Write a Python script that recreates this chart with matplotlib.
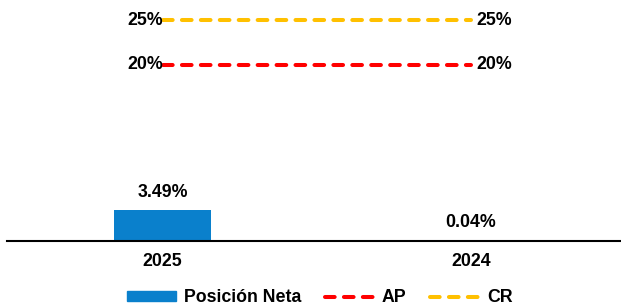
import numpy as np
import matplotlib.pyplot as plt
from matplotlib.patches import Patch
from matplotlib.lines import Line2D

plt.rcParams['font.family'] = ['Liberation Sans', 'DejaVu Sans']
plt.rcParams['font.weight'] = 'bold'

years = ['2025', '2024']
posicion_neta = [3.49, 0.04]
ap = [20, 20]
cr = [25, 25]

bar_color = '#0A80CC'
ap_color = '#FF0000'
cr_color = '#FFC000'
fs = 12.8
lw = 2.9
dash = (2.4, 2.3)

fig = plt.figure(figsize=(6.21, 3.07), dpi=100)
ax = fig.add_axes([7/621, 66.5/307, 614/621, 240.5/307])

x = np.arange(len(years))
ax.bar(x, posicion_neta, width=0.313, color=bar_color, zorder=2)
for xi, v in zip(x, posicion_neta):
    ax.annotate(f'{v:.2f}%', (xi, v), xytext=(0, 12.5), textcoords='offset points',
                ha='center', va='center', fontsize=fs, fontweight='bold')

for vals, col in [(ap, ap_color), (cr, cr_color)]:
    ax.plot(x, vals, color=col, lw=lw, dashes=dash, dash_capstyle='round',
            solid_capstyle='round', zorder=3)
    ax.annotate(f'{vals[0]:.0f}%', (x[0], vals[0]), xytext=(0.5, 0), textcoords='offset points',
                ha='right', va='center', fontsize=fs, fontweight='bold')
    ax.annotate(f'{vals[-1]:.0f}%', (x[-1], vals[-1]), xytext=(4, 0), textcoords='offset points',
                ha='left', va='center', fontsize=fs, fontweight='bold')

ax.set_xlim(-0.504, 1.486)
ax.set_ylim(0, 240.5/8.8)
ax.set_xticks(x)
ax.set_xticklabels(years, fontsize=fs, fontweight='bold')
ax.tick_params(axis='x', length=0, pad=9)
ax.set_yticks([])
for s in ['top', 'right', 'left']:
    ax.spines[s].set_visible(False)
ax.spines['bottom'].set_linewidth(1.5)

handles = [Patch(color=bar_color, label='Posición Neta'),
           Line2D([], [], color=ap_color, lw=lw, dashes=dash, dash_capstyle='round', label='AP'),
           Line2D([], [], color=cr_color, lw=lw, dashes=dash, dash_capstyle='round', label='CR')]
fig.legend(handles=handles, loc='center', bbox_to_anchor=(0.515, 0.03), ncol=3,
           frameon=False, fontsize=fs, handlelength=2.8, handleheight=0.45,
           columnspacing=1.35, handletextpad=0.4, borderpad=0, borderaxespad=0)

fig.savefig('out.png', dpi=100)
